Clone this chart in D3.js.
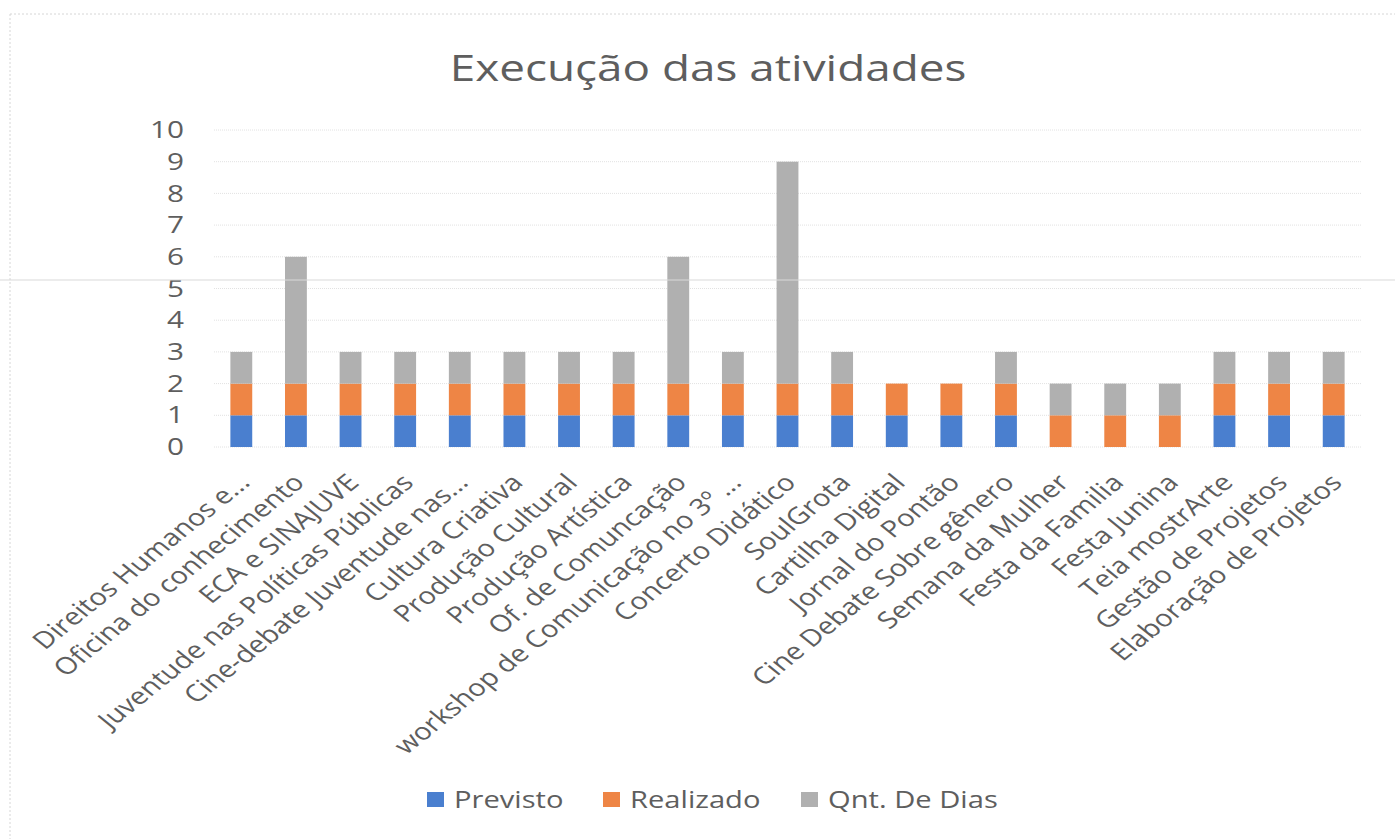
<!DOCTYPE html>
<html>
<head>
<meta charset="utf-8">
<script src="https://cdn.jsdelivr.net/npm/d3@7"></script>
<style>
  body { margin: 0; background: #fff; }
  text { font-family: "Open Sans", sans-serif; fill: #5e5e5e; }
</style>
</head>
<body>
<div id="chart"></div>
<script>
// categories and series
var categories = [
    "Direitos Humanos e...", "Oficina do conhecimento", "ECA e SINAJUVE",
    "Juventude nas Políticas Públicas", "Cine-debate Juventude nas...", "Cultura Criativa",
    "Produção Cultural", "Produção Artística", "Of. de Comuncação",
    "workshop de Comunicação no 3º ...", "Concerto Didático", "SoulGrota",
    "Cartilha Digital", "Jornal do Pontão", "Cine Debate Sobre gênero",
    "Semana da Mulher", "Festa da Familia", "Festa Junina",
    "Teia mostrArte", "Gestão de Projetos", "Elaboração de Projetos"
];
var previsto  = [1, 1, 1, 1, 1, 1, 1, 1, 1, 1, 1, 1, 1, 1, 1, 0, 0, 0, 1, 1, 1];
var realizado = [1, 1, 1, 1, 1, 1, 1, 1, 1, 1, 1, 1, 1, 1, 1, 1, 1, 1, 1, 1, 1];
var qntDias   = [1, 4, 1, 1, 1, 1, 1, 1, 4, 1, 7, 1, 0, 0, 1, 1, 1, 1, 1, 1, 1];
var seriesNames = ["Previsto", "Realizado", "Qnt. De Dias"];
var yTicks = [0, 1, 2, 3, 4, 5, 6, 7, 8, 9, 10];

var colors = ["#4a7fcf", "#ee8545", "#b0b0b0"];

var W = 1395, H = 839;
var margin = { top: 130, left: 214, right: 34, bottom: 392 };
// the scanned chart is a bit wider than tall, so the text is stretched too
var stretch = "scale(1.24,1)";

var svg = d3.select("#chart").append("svg")
    .attr("width", W)
    .attr("height", H);

// faint frame like the scanned page
svg.append("line")
    .attr("x1", 10).attr("x2", W).attr("y1", 14).attr("y2", 14)
    .attr("stroke", "#d6d6d6").attr("stroke-dasharray", "2,2");
svg.append("line")
    .attr("x1", 10).attr("x2", 10).attr("y1", 14).attr("y2", H)
    .attr("stroke", "#d6d6d6").attr("stroke-dasharray", "2,2");

var table = categories.map(function (c, i) {
    return { cat: c, "Previsto": previsto[i], "Realizado": realizado[i], "Qnt. De Dias": qntDias[i] };
});
var stacked = d3.stack().keys(seriesNames)(table);

var x = d3.scaleBand()
    .domain(categories)
    .range([margin.left, W - margin.right])
    .paddingInner(0.6)
    .paddingOuter(0.3);

var y = d3.scaleLinear()
    .domain([0, 10])
    .range([H - margin.bottom, margin.top]);

// gridlines
svg.append("g")
    .selectAll("line")
    .data(yTicks)
    .enter()
    .append("line")
    .attr("x1", margin.left)
    .attr("x2", W - margin.right)
    .attr("y1", function (d) { return y(d); })
    .attr("y2", function (d) { return y(d); })
    .attr("stroke", "#e2e2e2")
    .attr("stroke-dasharray", "1,1");

// y axis labels
var yAxis = d3.axisLeft(y).tickValues(yTicks).tickSize(0).tickPadding(0);
var gy = svg.append("g")
    .attr("transform", "translate(" + (margin.left - 30) + ",0)")
    .call(yAxis);
gy.select(".domain").remove();
gy.selectAll("text")
    .style("font-size", "24px")
    .attr("font-family", null)
    .attr("fill", null)
    .attr("transform", stretch);

// bars
svg.append("g")
    .selectAll("g")
    .data(stacked)
    .enter()
    .append("g")
    .attr("fill", function (d, i) { return colors[i]; })
    .selectAll("rect")
    .data(function (d) { return d; })
    .enter()
    .append("rect")
    .attr("x", function (d) { return x(d.data.cat); })
    .attr("width", x.bandwidth())
    .attr("y", function (d) { return y(d[1]); })
    .attr("height", function (d) { return y(d[0]) - y(d[1]); });

// x labels, rotated
var xAxis = d3.axisBottom(x).tickSize(0).tickPadding(0);
var gx = svg.append("g")
    .attr("transform", "translate(0," + y(0) + ")")
    .call(xAxis);
gx.select(".domain").remove();
gx.selectAll("text")
    .style("font-size", "23.5px")
    .attr("font-family", null)
    .attr("fill", null)
    .attr("text-anchor", "end")
    .attr("dy", null)
    .attr("y", 0)
    .attr("transform", "translate(10,37) " + stretch + " rotate(-45)");

// title
svg.append("text")
    .attr("transform", "translate(708,81) " + stretch)
    .attr("text-anchor", "middle")
    .style("font-size", "37px")
    .text("Execução das atividades");

// legend
var legendX = [427, 603, 801];
var legend = svg.append("g")
    .selectAll("g")
    .data(seriesNames)
    .enter()
    .append("g")
    .attr("transform", function (d, i) { return "translate(" + legendX[i] + ",792)"; });
legend.append("rect")
    .attr("width", 17)
    .attr("height", 15)
    .attr("fill", function (d, i) { return colors[i]; });
legend.append("text")
    .attr("transform", "translate(27,16) " + stretch)
    .style("font-size", "23.5px")
    .text(function (d) { return d; });

// stray scan line across the page
svg.append("line")
    .attr("x1", 0).attr("x2", W).attr("y1", 280).attr("y2", 280)
    .attr("stroke", "#d9d9d9");
</script>
</body>
</html>
